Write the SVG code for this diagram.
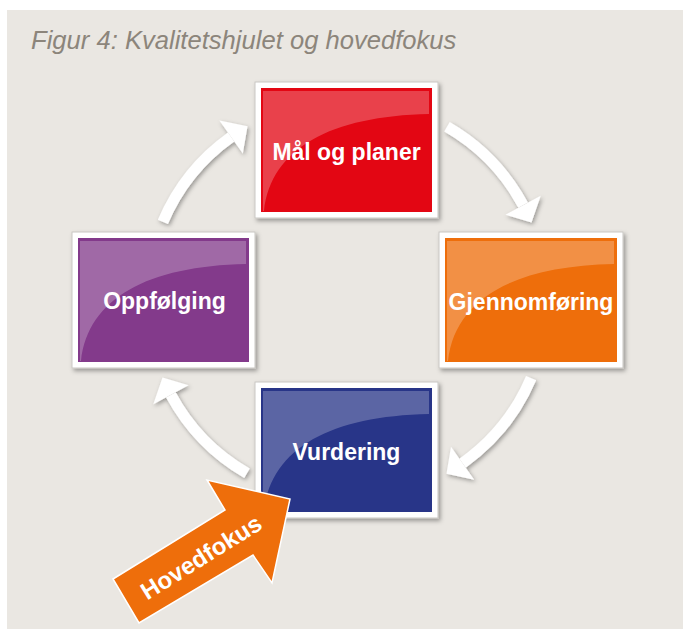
<svg xmlns="http://www.w3.org/2000/svg" width="683" height="629" viewBox="0 0 683 629">
<defs>
<filter id="sh" x="-20%" y="-20%" width="140%" height="140%">
<feDropShadow dx="2" dy="2.5" stdDeviation="2" flood-color="#000" flood-opacity="0.35"/>
</filter>
<filter id="ash" x="-30%" y="-30%" width="160%" height="160%">
<feDropShadow dx="1.5" dy="2" stdDeviation="2" flood-color="#000" flood-opacity="0.35"/>
</filter>
</defs>
<style>
.frame{fill:#fff;stroke:#c9c7c3;stroke-width:1}
.hl{fill:#fff;fill-opacity:0.24}
.lbl{font-family:"Liberation Sans",Arial,sans-serif;font-weight:bold;font-size:23px;fill:#fff;text-anchor:middle}
.shaft{fill:none;stroke:#fff;stroke-width:11}
.head{fill:#fff}
</style>
<rect x="0" y="0" width="683" height="629" fill="#fff"/>
<rect x="7" y="10" width="676" height="619" fill="#EAE7E2"/>
<text x="31" y="49" font-family="'Liberation Sans',Arial,sans-serif" font-style="italic" font-size="25.6" fill="#8C857B">Figur 4: Kvalitetshjulet og hovedfokus</text>

<g id="connectors" filter="url(#ash)">
<g id="arrow-1">
<path class="shaft" d="M162.9,221.9 A200,200 0 0 1 231.1,137"/>
<polygon class="head" points="219.4,120.5 247.5,126.3 242.8,153.5"/>
</g>
<g id="arrow-2">
<path class="shaft" d="M447,126.8 A200,200 0 0 1 523.1,205.2"/>
<polygon class="head" points="540.7,195.7 531.5,222.4 505.5,214.7"/>
</g>
<g id="arrow-3">
<path class="shaft" d="M531.1,378.1 A200,200 0 0 1 462.6,463.2"/>
<polygon class="head" points="474.2,479.7 446.5,473.7 451,446.7"/>
</g>
<g id="arrow-4">
<path class="shaft" d="M247,473.2 A200,200 0 0 1 170.9,394.8"/>
<polygon class="head" points="153.3,404.3 162.5,377.6 188.5,385.3"/>
</g>
</g>

<g id="node-maal" transform="translate(255,82)">
<rect class="frame" x="0" y="0" width="183" height="136" filter="url(#sh)"/>
<rect x="6" y="6" width="171" height="124" fill="#E30613"/>
<path class="hl" d="M8,9 H174 V32 C76,34 16,66 9,129 H8 Z"/>
<text class="lbl" x="91.5" y="78">Mål og planer</text>
</g>

<g id="node-gjennomforing" transform="translate(439,232)">
<rect class="frame" x="0" y="0" width="184" height="136" filter="url(#sh)"/>
<rect x="6" y="6" width="172" height="124" fill="#EE6E0B"/>
<path class="hl" d="M8,9 H175 V32 C76,34 16,66 9,129 H8 Z"/>
<text class="lbl" x="92" y="78">Gjennomføring</text>
</g>

<g id="node-oppfolging" transform="translate(72,232)">
<rect class="frame" x="0" y="0" width="183" height="136" filter="url(#sh)"/>
<rect x="6" y="6" width="171" height="124" fill="#833A8B"/>
<path class="hl" d="M8,9 H174 V32 C76,34 16,66 9,129 H8 Z"/>
<text class="lbl" x="92.5" y="77">Oppfølging</text>
</g>

<g id="node-vurdering" transform="translate(255,382)">
<rect class="frame" x="0" y="0" width="183" height="136" filter="url(#sh)"/>
<rect x="6" y="6" width="171" height="124" fill="#283588"/>
<path class="hl" d="M8,9 H174 V32 C76,34 16,66 9,129 H8 Z"/>
<text class="lbl" x="91.5" y="78">Vurdering</text>
</g>

<g id="node-hovedfokus">
<polygon points="113,579 225,510 207,480 290,499 272,583 253,555 139,623" fill="#EE6E0B" stroke="#fff" stroke-width="1.5" stroke-linejoin="miter"/>
<text class="lbl" transform="translate(201,557) rotate(-32)" x="0" y="8.5" style="font-size:24px">Hovedfokus</text>
</g>
</svg>
